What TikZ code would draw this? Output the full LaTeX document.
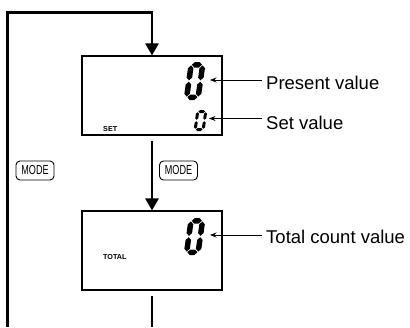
\documentclass[tikz,border=0pt]{standalone}
\usepackage{fontspec}
\setmainfont{Liberation Sans}
\usetikzlibrary{arrows.meta}
\newcommand\hseg[4]{%
  \fill (#1,#3) -- (#1+#4/2,#3+#4/2) -- (#2-#4/2,#3+#4/2) -- (#2,#3) -- (#2-#4/2,#3-#4/2) -- (#1+#4/2,#3-#4/2) -- cycle;}
\newcommand\vseg[4]{%
  \fill (#1,#2) -- (#1+#4/2,#2+#4/2) -- (#1+#4/2,#3-#4/2) -- (#1,#3) -- (#1-#4/2,#3-#4/2) -- (#1-#4/2,#2+#4/2) -- cycle;}
\newcommand\segzero[6]{%
  \begin{scope}[shift={(#1,#2)},x=1pt,y=1pt,xslant=#6]
    \def\gp{0.7}
    \hseg{#5/2+\gp}{#3-#5/2-\gp}{#5/2}{#5}
    \hseg{#5/2+\gp}{#3-#5/2-\gp}{#4-#5/2}{#5}
    \vseg{#5/2}{#5/2+\gp}{#4/2-\gp}{#5}
    \vseg{#5/2}{#4/2+\gp}{#4-#5/2-\gp}{#5}
    \vseg{#3-#5/2}{#5/2+\gp}{#4/2-\gp}{#5}
    \vseg{#3-#5/2}{#4/2+\gp}{#4-#5/2-\gp}{#5}
  \end{scope}}
\tikzset{
  dispbox/.style={draw, line width=1.1pt, minimum width=140pt, minimum height=79pt, inner sep=0pt},
  modebtn/.style={draw, line width=0.9pt, rounded corners=4pt, minimum width=38pt, minimum height=19pt, inner sep=0pt, font=\fontsize{13}{14}\selectfont},
  flow/.style={line width=2.8pt},
  flowarrow/.style={flow, -{Triangle[length=12pt,width=13pt]}},
  leader/.style={line width=0.8pt, -{Stealth[length=6.5pt,width=5pt]}},
  lbl/.style={anchor=west, inner sep=0pt, font=\fontsize{18.5}{20}\selectfont},
  tiny/.style={anchor=west, inner sep=0pt, font=\bfseries\fontsize{7.2}{8}\selectfont}
}
\begin{document}
\begin{tikzpicture}[x=1pt,y=-1pt]
\useasboundingbox (0,0) rectangle (410,327);
% display boxes
\node[dispbox] (d1) at (152,95.5) {};
\node[dispbox] (d2) at (152,250.5) {};
\node[tiny] (set) at (103,129.5) {SET};
\node[tiny] (total) at (103,257) {TOTAL};
% digits
\segzero{183.5}{100}{17}{38}{5.5}{0.14}
\segzero{193.5}{131}{11}{21}{3}{0.14}
\segzero{183.5}{255}{17}{37}{5.5}{0.14}
% labels
\node[lbl] (pv) at (266,83) {Present value};
\node[lbl] (sv) at (266,122.5) {Set value};
\node[lbl] (tv) at (266,236.5) {Total count value};
\coordinate (pvs) at (262,80);   \coordinate (pve) at (210,80);
\coordinate (svs) at (262,118.5); \coordinate (sve) at (209,118.5);
\coordinate (tvs) at (262,235);  \coordinate (tve) at (210,235);
\draw[leader] (pvs) -- (pve);
\draw[leader] (svs) -- (sve);
\draw[leader] (tvs) -- (tve);
% mode buttons
\node[modebtn] (m1) at (35,170.5) {\scalebox{0.7}[1]{MODE}};
\node[modebtn] (m2) at (178.5,170.5) {\scalebox{0.7}[1]{MODE}};
% flow lines
\coordinate (L0) at (7.5,327);
\coordinate (TL) at (7.5,12.5);
\coordinate (TR) at (152,12.5);
\draw[flowarrow] (L0) -- (TL) -- (TR) -- (d1.north);
\coordinate (c0) at (152,141);
\draw[flowarrow] (c0) -- (d2.north);
\coordinate (b0) at (152,296);
\coordinate (b1) at (152,327);
\draw[flow] (b0) -- (b1);
\end{tikzpicture}
\end{document}
